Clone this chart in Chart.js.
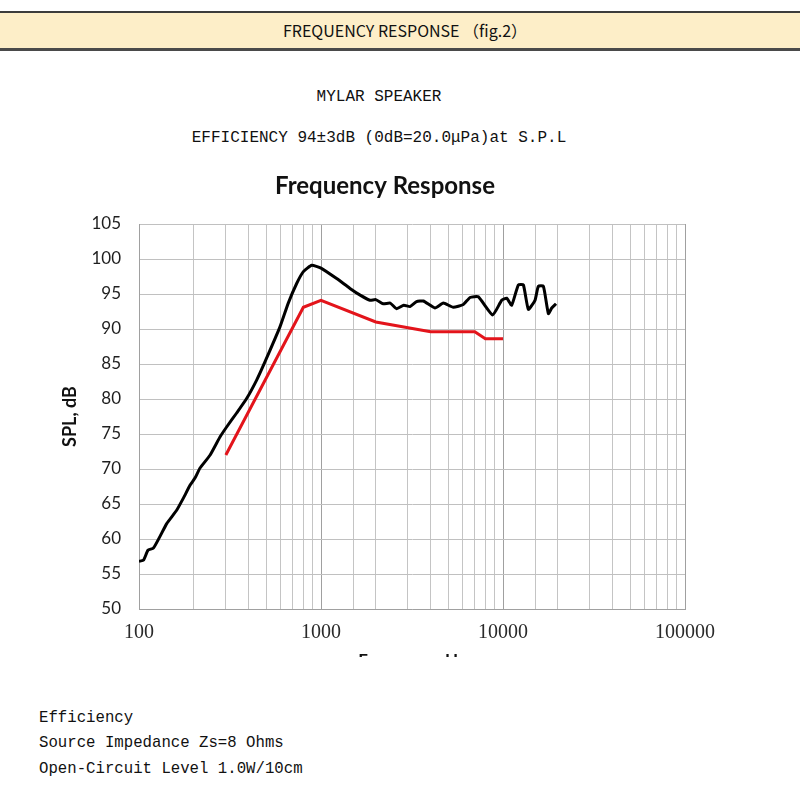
<!DOCTYPE html>
<html>
<head>
<meta charset="utf-8">
<script src="https://cdn.jsdelivr.net/npm/chart.js@4.4.0/dist/chart.umd.min.js"></script>
<style>
  html, body { margin: 0; padding: 0; background: #fff; width: 800px; height: 800px; overflow: hidden; }
  .bar { position: absolute; left: 0; top: 11px; width: 800px; height: 35px; background: #fdeec8;
         border-top: 2px solid #3c3c3c; border-bottom: 3px solid #4a4a4a; box-sizing: content-box;
         font-family: "Noto Sans CJK SC", "Noto Sans", sans-serif; font-size: 16px; color: #111;
         text-align: center; line-height: 35px; }
  .bar span { position: relative; left: 5px; }
  .mono { position: absolute; font-family: "Liberation Mono", "DejaVu Sans Mono", monospace; color: #111; white-space: pre; }
  #wrap { position: absolute; left: 0; top: 160px; width: 800px; height: 497px; overflow: hidden; }
</style>
</head>
<body>
<div class="bar"><span>FREQUENCY RESPONSE （fig.2）</span></div>
<div class="mono" style="left:229px;width:300px;top:88px;font-size:16px;text-align:center;">MYLAR SPEAKER</div>
<div class="mono" style="left:129px;width:500px;top:129px;font-size:16px;text-align:center;">EFFICIENCY 94±3dB (0dB=20.0μPa)at S.P.L</div>
<div class="mono" style="left:39px;top:709px;font-size:15.7px;">Efficiency</div>
<div class="mono" style="left:39px;top:734px;font-size:15.7px;">Source Impedance Zs=8 Ohms</div>
<div class="mono" style="left:39px;top:760px;font-size:15.7px;">Open-Circuit Level 1.0W/10cm</div>
<div id="wrap"><canvas id="c" width="800" height="520"></canvas></div>
<script>
// Measured response (black) — frequency in Hz, SPL in dB
const measuredFreq = [100, 106, 112, 120, 130, 142, 161, 175, 191, 203, 216, 246, 279, 303, 344, 391, 443, 492, 595, 661, 735, 800, 889, 1000, 1219, 1443, 1650, 1858, 2000, 2199, 2400, 2604, 2850, 3083, 3350, 3650, 4230, 4698, 5331, 6054, 6590, 7316, 8776, 9835, 10480, 11160, 12140, 12940, 13780, 14990, 15640, 16670, 17760, 18530, 19560];
const measuredSpl  = [56.8, 57.0, 58.4, 58.7, 60.3, 62.2, 64.1, 65.8, 67.7, 68.7, 70.1, 72.0, 74.6, 76.0, 78.0, 80.1, 82.7, 85.3, 90.3, 93.7, 96.5, 98.2, 99.1, 98.7, 97.2, 95.8, 94.8, 94.1, 94.2, 93.6, 93.7, 92.9, 93.4, 93.2, 93.9, 94.0, 93.0, 93.7, 93.1, 93.5, 94.5, 94.6, 92.0, 94.1, 94.4, 93.4, 96.3, 96.3, 92.8, 94.1, 96.1, 96.1, 92.2, 93.0, 93.6];
// Specification / lower limit (red)
const limitFreq = [300, 800, 1000, 2000, 4000, 7000, 8000, 10000];
const limitSpl  = [72.0, 93.1, 94.1, 91.0, 89.6, 89.6, 88.6, 88.6];
// Axis ranges / ticks
const xMin = 100, xMax = 100000;
const yMin = 50, yMax = 105, yStep = 5;

const toPoints = (xs, ys) => xs.map((x, i) => ({ x: x, y: ys[i] }));
const isPow10 = v => { const l = Math.log10(v); return Math.abs(l - Math.round(l)) < 1e-9; };

new Chart(document.getElementById('c'), {
  type: 'scatter',
  data: {
    datasets: [
      { label: 'Measured', data: toPoints(measuredFreq, measuredSpl), showLine: true, borderColor: '#000000',
        borderWidth: 3, pointRadius: 0, tension: 0.15, yAxisID: 'y' },
      { label: 'Limit', data: toPoints(limitFreq, limitSpl), showLine: true, borderColor: '#e3141b',
        borderWidth: 3, pointRadius: 0, tension: 0, yAxisID: 'y' }
    ]
  },
  options: {
    responsive: false,
    animation: false,
    devicePixelRatio: 1,
    layout: { padding: { left: 50, right: 80, top: 0, bottom: 9 } },
    plugins: {
      legend: { display: false },
      tooltip: { enabled: false },
      title: { display: true, text: 'Frequency Response', color: '#111',
               font: { family: 'Lato', size: 24, weight: 'bold' }, padding: { top: 12, bottom: 23.2 } }
    },
    scales: {
      x: {
        type: 'logarithmic', min: xMin, max: xMax, position: 'bottom',
        afterFit: s => { s.height = 62; },
        grid: { drawTicks: false, color: ctx => (ctx.tick && isPow10(ctx.tick.value)) ? '#a0a0a0' : '#c4c4c4', lineWidth: 1 },
        border: { color: '#a0a0a0' },
        ticks: { autoSkip: false, maxRotation: 0, padding: 12, color: '#2a2a2a',
                 font: { family: 'Liberation Serif', size: 20 },
                 callback: v => isPow10(v) ? String(Math.round(v)) : '' },
        title: { display: true, text: 'Frequency, Hz', color: '#111',
                 font: { family: 'Lato', size: 17, weight: 'bold' }, padding: { top: 0, bottom: 0 } }
      },
      y: {
        type: 'linear', min: yMin, max: yMax, position: 'left',
        afterFit: s => { s.width = 89; },
        grid: { drawTicks: false, color: '#c0c0c0', lineWidth: 1 },
        border: { color: '#a0a0a0' },
        ticks: { stepSize: yStep, padding: 18, color: '#1e1e1e', font: { family: 'Lato', size: 17 } },
        title: { display: true, text: 'SPL, dB', color: '#111',
                 font: { family: 'Lato', size: 18, weight: 'bold' }, padding: { top: 9, bottom: 0 } }
      },
      yR: {
        type: 'linear', position: 'right', display: true,
        afterFit: s => { s.width = 35; },
        grid: { display: false, drawTicks: false }, border: { display: false },
        ticks: { display: false }
      }
    }
  }
});
</script>
</body>
</html>
